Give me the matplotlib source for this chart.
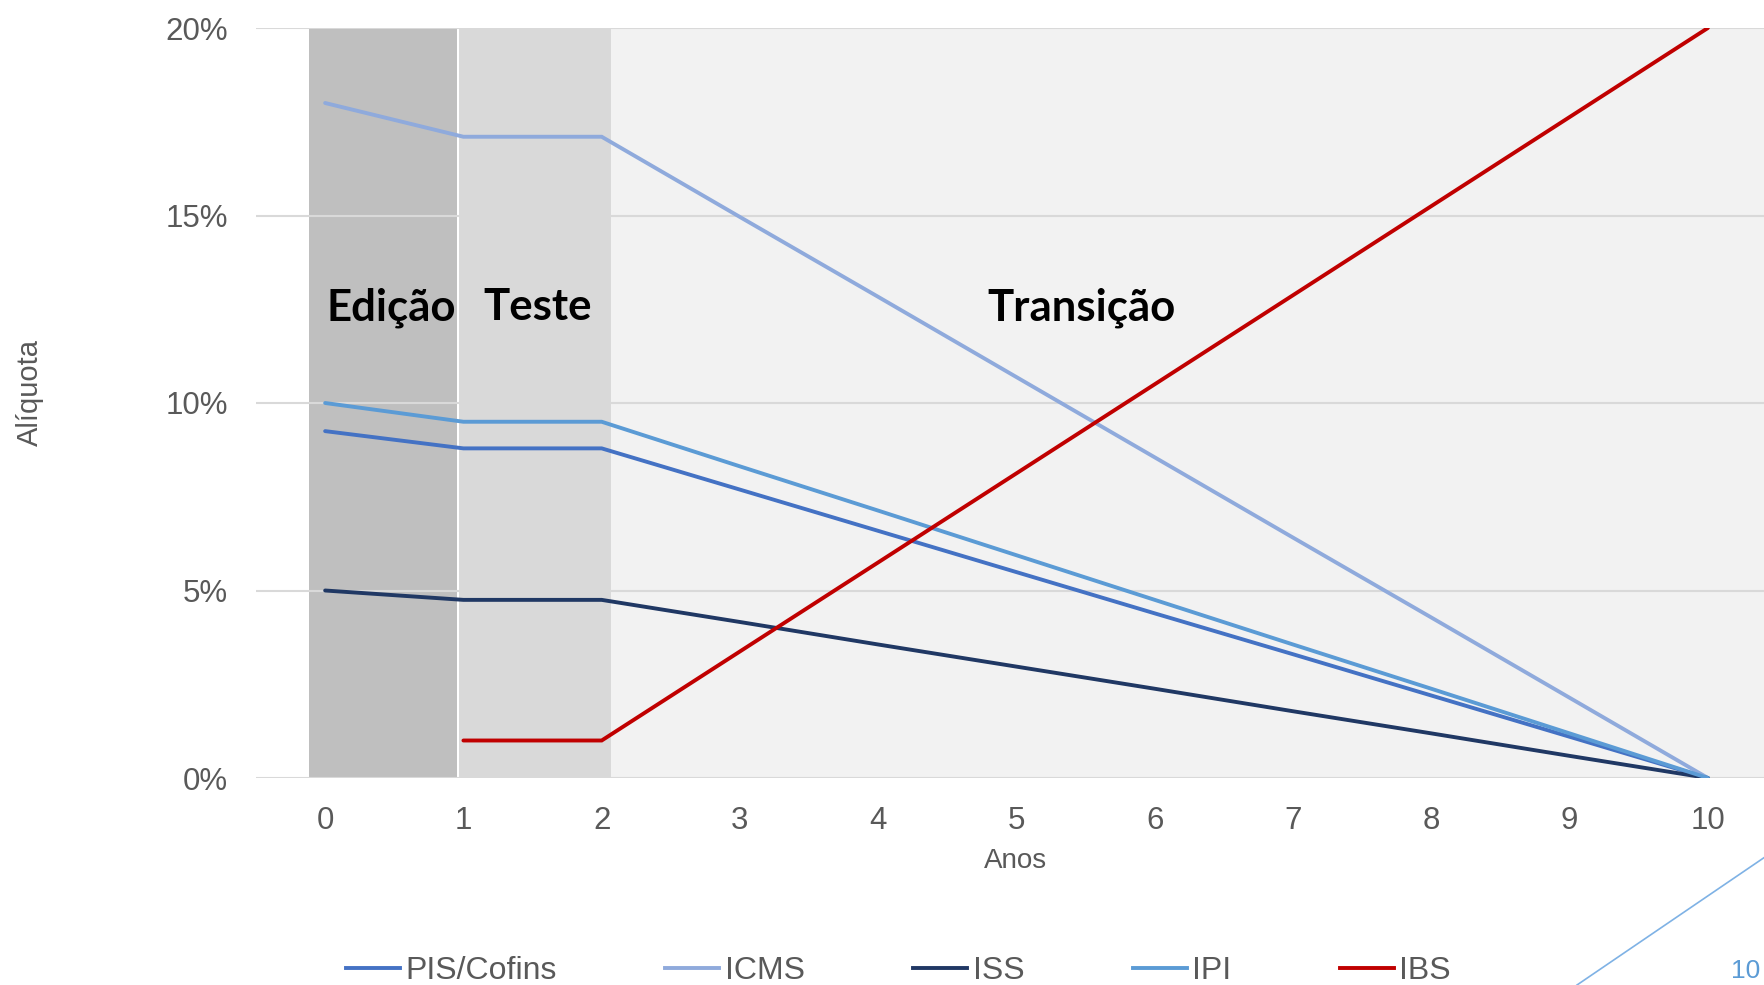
import matplotlib
matplotlib.use("Agg")
import matplotlib.pyplot as plt
from matplotlib.lines import Line2D
import numpy as np

# data (aliquota, % per year)
anos = [0, 1, 2, 3, 4, 5, 6, 7, 8, 9, 10]
pis_cofins = [9.25, 8.79, 8.79, 7.69, 6.59, 5.49, 4.39, 3.30, 2.20, 1.10, 0.0]
icms = [18.0, 17.1, 17.1, 14.96, 12.83, 10.69, 8.55, 6.41, 4.28, 2.14, 0.0]
iss = [5.0, 4.75, 4.75, 4.16, 3.56, 2.97, 2.38, 1.78, 1.19, 0.59, 0.0]
ipi = [10.0, 9.5, 9.5, 8.31, 7.13, 5.94, 4.75, 3.56, 2.38, 1.19, 0.0]
ibs = [np.nan, 1.0, 1.0, 3.375, 5.75, 8.125, 10.5, 12.875, 15.25, 17.625, 20.0]

series_names = ["PIS/Cofins", "ICMS", "ISS", "IPI", "IBS"]
series_colors = ["#4472c4", "#8faadc", "#203864", "#5b9bd5", "#c00000"]

yticks = [0, 5, 10, 15, 20]
ytick_labels = ["0%", "5%", "10%", "15%", "20%"]

phases = ["Edição", "Teste", "Transição"]

plt.rcParams["font.family"] = ["Liberation Sans", "DejaVu Sans"]
grey_txt = "#595959"

W, H = 1765, 985
fig = plt.figure(figsize=(W / 100, H / 100), dpi=100)
ax = fig.add_axes([256 / W, 1 - 778 / H, (1777 - 256) / W, 750 / H])
ax.set_xlim(-0.5, 10.5)
ax.set_ylim(0, 20)

# phase shading
ax.axvspan(-0.115, 0.951, color="#bfbfbf", lw=0, zorder=0)
ax.axvspan(0.970, 2.066, color="#d9d9d9", lw=0, zorder=0)
ax.axvspan(2.066, 10.5, color="#f2f2f2", lw=0, zorder=0)

for y in yticks:
    ax.axhline(y, color="#d9d9d9", lw=1.5, zorder=1)

all_series = [pis_cofins, icms, iss, ipi, ibs]
for vals, name, col in zip(all_series, series_names, series_colors):
    ax.plot(anos, vals, color=col, lw=2.8, label=name, zorder=3,
            solid_capstyle="round", solid_joinstyle="miter")

for s in ax.spines.values():
    s.set_visible(False)
ax.set_xticks(anos)
ax.set_yticks(yticks)
ax.set_yticklabels(ytick_labels)
ax.tick_params(length=0, labelsize=22.5, colors=grey_txt)
ax.tick_params(axis="y", pad=20)
ax.tick_params(axis="x", pad=20)

# phase labels
phase_x = [0.477, 1.54, 5.47]
for lbl, x in zip(phases, phase_x):
    ax.text(x, 12.55, lbl, ha="center", va="center", fontsize=31.5,
            fontweight="bold", family="Lato", color="black", zorder=4)

fig.text(1016 / W, 1 - 861 / H, "Anos", ha="center", va="center",
         fontsize=20, color=grey_txt)
fig.text(30 / W, 1 - 392 / H, "Alíquota", ha="center", va="center",
         rotation=90, fontsize=21, color=grey_txt)

handles = [Line2D([], [], color=c, lw=2.8) for c in series_colors]
fig.legend(handles, series_names, loc="center", bbox_to_anchor=(0.509, 1 - 971 / H),
           ncol=5, frameon=False, fontsize=23, handlelength=1.7,
           handletextpad=0.16, columnspacing=3.4, labelcolor=grey_txt,
           borderaxespad=0, borderpad=0)

# slide decoration
fig.add_artist(Line2D([1577 / W, 1765 / W], [0, 1 - 857 / H], color="#7fb2e5", lw=1.2))
fig.text(1746 / W, 1 - 983 / H, "10", ha="center", va="bottom", fontsize=19, color="#5b9bd5")

fig.savefig("out.png", dpi=100)
